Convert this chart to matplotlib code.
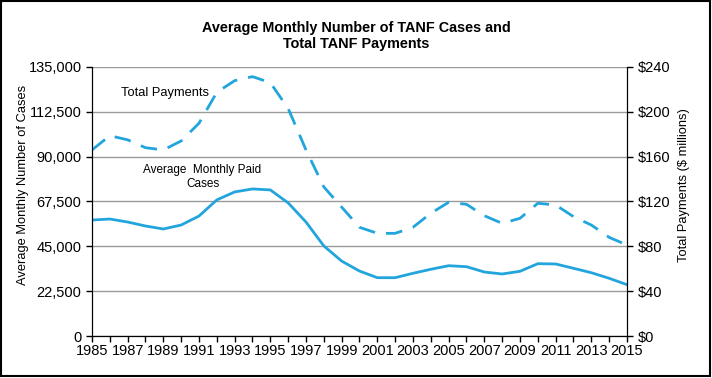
import numpy as np
import matplotlib.pyplot as plt
from matplotlib.patches import Rectangle

# Data
years = list(range(1985, 2016))
cases = [58200, 58700, 57200, 55200, 53700, 55700, 60200, 68300, 72300, 73800,
         73300, 66800, 57200, 45200, 37600, 32600, 29260, 29260, 31470, 33480,
         35280, 34780, 32120, 31120, 32470, 36290, 36140, 33980, 31770, 28960,
         25750]
payments = [166, 178.7, 175, 168, 166, 174, 189.8, 217.4, 227.8, 231.4,
            226, 203, 166, 133, 115, 97, 91.6, 91.6, 97, 109.5,
            119.3, 117.5, 107.3, 100.5, 105, 118.4, 116.9, 106.5, 99, 88,
            81.2]

plt.rcParams['font.family'] = ['Liberation Sans', 'DejaVu Sans']

blue = "#22a5dd"

fig = plt.figure(figsize=(7.12, 3.78), dpi=100)
ax = fig.add_axes([0.1292, 0.1111, 0.7514, 0.7117])

# cases on the left axis
ax.plot(years, cases, color=blue, lw=2)
ax.set_ylim(0, 135000)
ax.set_yticks(np.arange(0, 135001, 22500))
ax.set_yticklabels([f"{v:,}" for v in np.arange(0, 135001, 22500)])
ax.set_xlim(1985, 2015)
ax.set_xticks(range(1985, 2016, 2))
ax.set_xticks(range(1985, 2016), minor=True)
ax.grid(axis="y", color="#9a9a9a", lw=1)
ax.set_axisbelow(True)
ax.spines["top"].set_visible(False)
ax.tick_params(axis="both", which="both", direction="out", length=4, width=1, labelsize=10.5)
ax.tick_params(axis="x", pad=2)
ax.set_ylabel("Average Monthly Number of Cases", fontsize=9.3)
ax.yaxis.set_label_coords(-0.118, 0.56)

# payments on the right axis
ax2 = ax.twinx()
ax2.plot(years, payments, color=blue, lw=2, dashes=(6, 4))
ax2.set_ylim(0, 240)
ax2.set_yticks(range(0, 241, 40))
ax2.set_yticklabels([f"${v}" for v in range(0, 241, 40)])
ax2.spines["top"].set_visible(False)
ax2.tick_params(axis="y", direction="out", length=4, width=1, labelsize=10.5)
ax2.set_ylabel("Total Payments ($ millions)", fontsize=9.3)
ax2.yaxis.set_label_coords(1.095, 0.56)

ax.text(1989.1, 122000, "Total Payments", fontsize=9.3, ha="center", va="center")
ax.text(1991.2, 79800, "Average  Monthly Paid\nCases", fontsize=8.5, ha="center", va="center",
        linespacing=1.25)

fig.text(0.5, 0.905, "Average Monthly Number of TANF Cases and\nTotal TANF Payments",
         ha="center", va="center", fontsize=10.4, fontweight="bold", linespacing=1.2)

fig.patches.append(Rectangle((0.001, 0.004), 0.996, 0.994, transform=fig.transFigure,
                             fill=False, edgecolor="black", lw=1.5))

fig.savefig("out.png", dpi=100)
